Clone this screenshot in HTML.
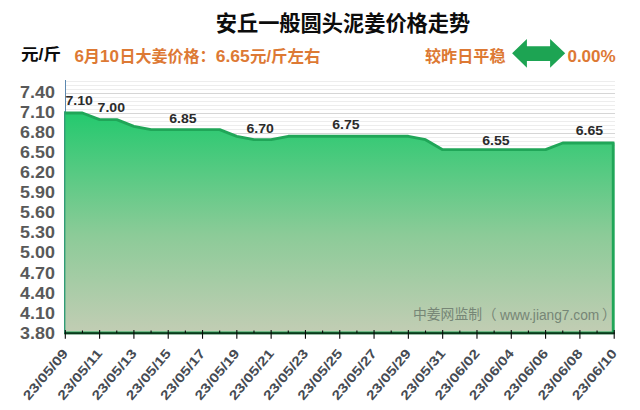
<!DOCTYPE html>
<html lang="zh"><head><meta charset="utf-8"><title>安丘一般圆头泥姜价格走势</title>
<style>
html,body{margin:0;padding:0;background:#fff;}
body{width:640px;height:410px;overflow:hidden;font-family:"Liberation Sans","Noto Sans CJK SC",sans-serif;}
svg{display:block;}
svg text{font-family:"Liberation Sans","Noto Sans CJK SC",sans-serif;}
</style></head><body>
<svg width="640" height="410" viewBox="0 0 640 410">
<defs>
<linearGradient id="ag" x1="0" y1="0" x2="0" y2="1">
<stop offset="0" stop-color="#24c96e"/>
<stop offset="0.555" stop-color="#8ccb98"/>
<stop offset="1" stop-color="#c2cdb4"/>
</linearGradient>
<clipPath id="pc"><rect x="64" y="80" width="551" height="254.5"/></clipPath>
</defs>
<rect width="640" height="410" fill="#fff"/>
<g stroke-width="1" fill="none" shape-rendering="crispEdges">
<path d="M65.3 149.5H614.9M65.3 145.5H614.9M65.3 141.5H614.9M65.3 137.5H614.9M65.3 129.5H614.9M65.3 125.5H614.9M65.3 121.5H614.9M65.3 117.5H614.9M65.3 109.5H614.9M65.3 105.5H614.9M65.3 101.5H614.9M65.3 97.5H614.9M65.3 89.5H614.9M65.3 85.5H614.9M65.3 81.5H614.9" stroke="#ededed"/>
<path d="M65.3 133.5H614.9M65.3 113.5H614.9M65.3 93.5H614.9" stroke="#d6d6d6"/>
</g>
<path d="M65.5 80V333" stroke="#5c88b0" stroke-width="1" fill="none"/>
<path d="M64 333 L64 112.99 L82.45 112.99 L99.61 119.66 L116.76 119.66 L133.91 126.32 L151.07 129.66 L168.22 129.66 L185.37 129.66 L202.53 129.66 L219.68 129.66 L236.83 136.32 L253.98 139.66 L271.14 139.66 L288.29 136.32 L305.44 136.32 L322.6 136.32 L339.75 136.32 L356.9 136.32 L374.06 136.32 L391.21 136.32 L408.36 136.32 L425.52 139.66 L442.67 149.66 L459.82 149.66 L476.98 149.66 L494.13 149.66 L511.28 149.66 L528.43 149.66 L545.59 149.66 L562.74 142.99 L579.89 142.99 L597.05 142.99 L613.25 142.99 L613.25 333Z" fill="url(#ag)"/>
<path d="M64 112.99 L82.45 112.99 L99.61 119.66 L116.76 119.66 L133.91 126.32 L151.07 129.66 L168.22 129.66 L185.37 129.66 L202.53 129.66 L219.68 129.66 L236.83 136.32 L253.98 139.66 L271.14 139.66 L288.29 136.32 L305.44 136.32 L322.6 136.32 L339.75 136.32 L356.9 136.32 L374.06 136.32 L391.21 136.32 L408.36 136.32 L425.52 139.66 L442.67 149.66 L459.82 149.66 L476.98 149.66 L494.13 149.66 L511.28 149.66 L528.43 149.66 L545.59 149.66 L562.74 142.99 L579.89 142.99 L597.05 142.99 L613.25 142.99 V333H64" fill="none" stroke="#20a658" stroke-width="2.9" stroke-linejoin="round" clip-path="url(#pc)"/>
<path d="M64.7 111.59V333" stroke="#319c76" stroke-width="1.4" fill="none"/>
<path d="M64.7 333.2H614.8" stroke="#0c3a1c" stroke-width="2.1" fill="none"/>
<path d="M65.3 329.9V338.7M82.45 330.4V333M99.61 329.9V338.7M116.76 330.4V333M133.91 329.9V338.7M151.07 330.4V333M168.22 329.9V338.7M185.37 330.4V333M202.53 329.9V338.7M219.68 330.4V333M236.83 329.9V338.7M253.98 330.4V333M271.14 329.9V338.7M288.29 330.4V333M305.44 329.9V338.7M322.6 330.4V333M339.75 329.9V338.7M356.9 330.4V333M374.06 329.9V338.7M391.21 330.4V333M408.36 329.9V338.7M425.52 330.4V333M442.67 329.9V338.7M459.82 330.4V333M476.98 329.9V338.7M494.13 330.4V333M511.28 329.9V338.7M528.43 330.4V333M545.59 329.9V338.7M562.74 330.4V333M579.89 329.9V338.7M597.05 330.4V333M614.2 329.9V338.7" stroke="#0a0a0a" stroke-width="1.1" fill="none"/>
<g font-size="16.3" font-weight="bold" fill="#595959" text-anchor="end">
<text x="55" y="338.8" textLength="34.9" lengthAdjust="spacingAndGlyphs">3.80</text>
<text x="55" y="318.72" textLength="34.9" lengthAdjust="spacingAndGlyphs">4.10</text>
<text x="55" y="298.63" textLength="34.9" lengthAdjust="spacingAndGlyphs">4.40</text>
<text x="55" y="278.55" textLength="34.9" lengthAdjust="spacingAndGlyphs">4.70</text>
<text x="55" y="258.46" textLength="34.9" lengthAdjust="spacingAndGlyphs">5.00</text>
<text x="55" y="238.38" textLength="34.9" lengthAdjust="spacingAndGlyphs">5.30</text>
<text x="55" y="218.29" textLength="34.9" lengthAdjust="spacingAndGlyphs">5.60</text>
<text x="55" y="198.21" textLength="34.9" lengthAdjust="spacingAndGlyphs">5.90</text>
<text x="55" y="178.13" textLength="34.9" lengthAdjust="spacingAndGlyphs">6.20</text>
<text x="55" y="158.04" textLength="34.9" lengthAdjust="spacingAndGlyphs">6.50</text>
<text x="55" y="137.96" textLength="34.9" lengthAdjust="spacingAndGlyphs">6.80</text>
<text x="55" y="117.87" textLength="34.9" lengthAdjust="spacingAndGlyphs">7.10</text>
<text x="55" y="97.79" textLength="34.9" lengthAdjust="spacingAndGlyphs">7.40</text>
</g>
<g font-size="13" font-weight="bold" fill="#464b53" text-anchor="end">
<text transform="translate(68.7 353.7) rotate(-50)" textLength="61.6" lengthAdjust="spacingAndGlyphs">23/05/09</text>
<text transform="translate(103.01 353.7) rotate(-50)" textLength="61.6" lengthAdjust="spacingAndGlyphs">23/05/11</text>
<text transform="translate(137.31 353.7) rotate(-50)" textLength="61.6" lengthAdjust="spacingAndGlyphs">23/05/13</text>
<text transform="translate(171.62 353.7) rotate(-50)" textLength="61.6" lengthAdjust="spacingAndGlyphs">23/05/15</text>
<text transform="translate(205.93 353.7) rotate(-50)" textLength="61.6" lengthAdjust="spacingAndGlyphs">23/05/17</text>
<text transform="translate(240.23 353.7) rotate(-50)" textLength="61.6" lengthAdjust="spacingAndGlyphs">23/05/19</text>
<text transform="translate(274.54 353.7) rotate(-50)" textLength="61.6" lengthAdjust="spacingAndGlyphs">23/05/21</text>
<text transform="translate(308.84 353.7) rotate(-50)" textLength="61.6" lengthAdjust="spacingAndGlyphs">23/05/23</text>
<text transform="translate(343.15 353.7) rotate(-50)" textLength="61.6" lengthAdjust="spacingAndGlyphs">23/05/25</text>
<text transform="translate(377.46 353.7) rotate(-50)" textLength="61.6" lengthAdjust="spacingAndGlyphs">23/05/27</text>
<text transform="translate(411.76 353.7) rotate(-50)" textLength="61.6" lengthAdjust="spacingAndGlyphs">23/05/29</text>
<text transform="translate(446.07 353.7) rotate(-50)" textLength="61.6" lengthAdjust="spacingAndGlyphs">23/05/31</text>
<text transform="translate(480.38 353.7) rotate(-50)" textLength="61.6" lengthAdjust="spacingAndGlyphs">23/06/02</text>
<text transform="translate(514.68 353.7) rotate(-50)" textLength="61.6" lengthAdjust="spacingAndGlyphs">23/06/04</text>
<text transform="translate(548.99 353.7) rotate(-50)" textLength="61.6" lengthAdjust="spacingAndGlyphs">23/06/06</text>
<text transform="translate(583.29 353.7) rotate(-50)" textLength="61.6" lengthAdjust="spacingAndGlyphs">23/06/08</text>
<text transform="translate(617.6 353.7) rotate(-50)" textLength="61.6" lengthAdjust="spacingAndGlyphs">23/06/10</text>
</g>
<g font-size="13.6" font-weight="bold" fill="#2b2b2b" text-anchor="middle">
<text x="79.2" y="104.7" textLength="27.4" lengthAdjust="spacingAndGlyphs">7.10</text>
<text x="111.3" y="111.5" textLength="27.4" lengthAdjust="spacingAndGlyphs">7.00</text>
<text x="183" y="122.5" textLength="27.4" lengthAdjust="spacingAndGlyphs">6.85</text>
<text x="260.2" y="132.6" textLength="27.4" lengthAdjust="spacingAndGlyphs">6.70</text>
<text x="345.85" y="128.8" textLength="27.4" lengthAdjust="spacingAndGlyphs">6.75</text>
<text x="496" y="144.7" textLength="27.4" lengthAdjust="spacingAndGlyphs">6.55</text>
<text x="589.5" y="134.7" textLength="27.4" lengthAdjust="spacingAndGlyphs">6.65</text>
</g>
<text x="343" y="30.6" font-size="21.2" font-weight="bold" fill="#0c0c0c" text-anchor="middle" textLength="254.5" lengthAdjust="spacingAndGlyphs">安丘一般圆头泥姜价格走势</text>
<text x="21" y="59.6" font-size="16.3" font-weight="bold" fill="#0c0c0c" textLength="40" lengthAdjust="spacingAndGlyphs">元/斤</text>
<text x="74.5" y="61.6" font-size="16.3" font-weight="bold" fill="#dd7934" textLength="9.5" lengthAdjust="spacingAndGlyphs">6</text>
<text x="100.1" y="61.6" font-size="16.3" font-weight="bold" fill="#dd7934" textLength="19" lengthAdjust="spacingAndGlyphs">10</text>
<text x="215.7" y="61.6" font-size="16.3" font-weight="bold" fill="#dd7934" textLength="34.04" lengthAdjust="spacingAndGlyphs">6.65</text>
<text x="83.8" y="61.6" font-size="16.3" font-weight="bold" fill="#dd7934">月</text>
<text x="119.5" y="61.6" font-size="16.3" font-weight="bold" fill="#dd7934" textLength="96" lengthAdjust="spacingAndGlyphs">日大姜价格：</text>
<text x="250" y="61.6" font-size="16.3" font-weight="bold" fill="#dd7934" textLength="70.5" lengthAdjust="spacingAndGlyphs">元/斤左右</text>
<text x="425" y="61.6" font-size="16.3" font-weight="bold" fill="#dd7934" textLength="80.5" lengthAdjust="spacingAndGlyphs">较昨日平稳</text>
<text x="567.4" y="61.6" font-size="16.3" font-weight="bold" fill="#dd7934" textLength="48.4" lengthAdjust="spacingAndGlyphs">0.00%</text>
<path d="M512.1 53.35L526.9 39V46.3H550.1V39L565.2 53.35L550.1 67.7V60.9H526.9V67.7Z" fill="#1da453"/>
<text x="413" y="319.2" font-size="14" font-weight="normal" fill="#768676" textLength="69" lengthAdjust="spacingAndGlyphs">中姜网监制</text>
<text x="482.5" y="319.2" font-size="14" font-weight="normal" fill="#768676">（</text>
<text x="500" y="320.1" font-size="14" font-weight="normal" fill="#768676" textLength="99.3" lengthAdjust="spacingAndGlyphs">www.jiang7.com</text>
<text x="602" y="319.2" font-size="14" font-weight="normal" fill="#768676">）</text>
</svg></body></html>
